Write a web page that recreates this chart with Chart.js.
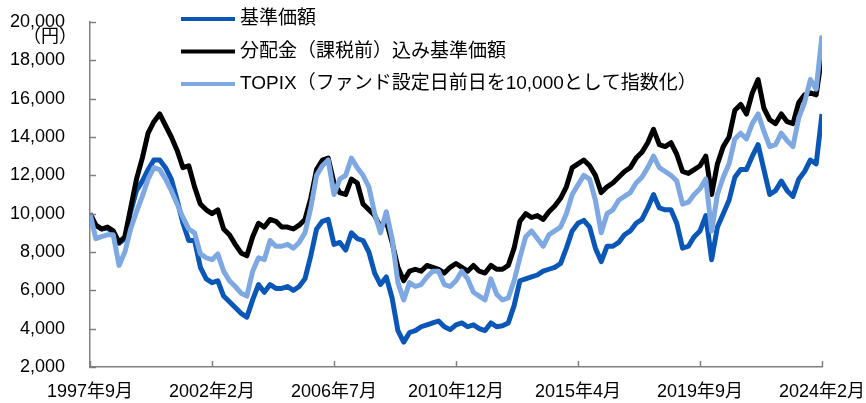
<!DOCTYPE html>
<html>
<head>
<meta charset="utf-8">
<script src="https://cdn.jsdelivr.net/npm/chart.js@4.4.1/dist/chart.umd.min.js"></script>
<style>
  html, body { margin: 0; padding: 0; background: #fff; overflow: hidden; }
  #wrap { width: 866px; height: 403px; position: relative; }
</style>
</head>
<body>
<div id="wrap"><canvas id="navChart"></canvas></div>
<script>
// x tick labels, one every 21 points (points are ~2.5 months apart)
const xLabels = ['1997年9月', '2002年2月', '2006年7月', '2010年12月', '2015年4月', '2019年9月', '2024年2月'];
const yTicks = [2000, 4000, 6000, 8000, 10000, 12000, 14000, 16000, 18000, 20000];

const seriesNames = ['基準価額', '分配金（課税前）込み基準価額', 'TOPIX（ファンド設定日前日を10,000として指数化）'];

// 基準価額
const navValues = [
  10000, 9400, 9200, 9250, 9050, 8450, 8700, 10100, 11200, 11700,
  12300, 12800, 12800, 12400, 11800, 10700, 9500, 8600, 8600, 7200,
  6600, 6400, 6500, 5700, 5400, 5100, 4800, 4600, 5500, 6300,
  5900, 6300, 6100, 6100, 6200, 6000, 6200, 6600, 7800, 9200,
  9600, 9700, 8400, 8500, 8100, 9000, 8700, 8600, 8000, 6900,
  6300, 6700, 5600, 3900, 3300, 3800, 3900, 4100, 4200, 4300,
  4400, 4100, 3950, 4200, 4300, 4100, 4200, 4000, 3900, 4300,
  4100, 4150, 4300, 5200, 6500, 6600, 6700, 6800, 7000, 7100,
  7200, 7400, 8200, 9100, 9500, 9650, 9300, 8200, 7500, 8300,
  8300, 8500, 8900, 9100, 9500, 9700, 10300, 11000, 10300, 10200,
  10200, 9500, 8200, 8300, 8800, 9100, 9900, 7600, 9300, 10000,
  10700, 11900, 12300, 12300, 13000, 13600, 12300, 11000, 11200, 11700,
  11200, 10900, 11800, 12200, 12800, 12600, 15200
];

// 分配金（課税前）込み基準価額
const navDivValues = [
  10000, 9400, 9200, 9300, 9100, 8500, 8800, 10300, 11800, 12900,
  14200, 14800, 15200, 14600, 14000, 13300, 12400, 12500, 11400, 10500,
  10200, 10000, 10200, 9200, 8900, 8400, 7950, 7800, 8800, 9500,
  9300, 9700, 9600, 9300, 9300, 9200, 9400, 9700, 10800, 12300,
  12800, 12900, 11600, 11100, 11000, 11800, 11600, 10500, 10200, 9900,
  9300, 9600, 8500, 7200, 6500, 7000, 7100, 7000, 7300, 7200,
  7100, 6900, 7200, 7400, 7200, 7000, 7300, 7000, 6900, 7300,
  7100, 7100, 7300, 8200, 9600, 10000, 9800, 9900, 9700, 10100,
  10400, 10800, 11400, 12400, 12600, 12800, 12500, 12000, 11100, 11400,
  11600, 11900, 12200, 12400, 12900, 13200, 13700, 14400, 13600, 13500,
  13700, 13100, 12200, 12100, 12300, 12500, 13000, 11000, 12600, 13500,
  14000, 15400, 15700, 15200, 16300, 17000, 15500, 14900, 14700, 15200,
  14800, 14700, 15800, 16200, 16300, 16200, 18300
];

// TOPIX（指数化）
const topixValues = [
  10000, 8700, 8800, 8900, 8900, 7300, 8000, 9200, 10100, 10900,
  11800, 12400, 12300, 11800, 11200, 10500, 9800, 9200, 9000, 7900,
  7700, 7600, 7900, 7000, 6500, 6200, 5850, 5700, 7000, 7700,
  7600, 8600, 8300, 8300, 8400, 8200, 8500, 9000, 10300, 12000,
  12500, 12800, 11000, 11800, 12000, 12900, 12400, 12000, 11400, 10000,
  9000, 10100, 8700, 6400, 5500, 6400, 6200, 6300, 6700, 7000,
  7000, 6300, 6200, 6500, 7000, 6600, 5900, 5700, 5500, 6600,
  5800, 5500, 5600, 6500, 7700, 8800, 9100, 8700, 8300, 8900,
  9100, 9300, 10000, 11000, 11500, 12000, 11800, 10700, 9000, 10000,
  10200, 10700, 10900, 11100, 11600, 11900, 12400, 13000, 12400, 12200,
  12000, 11700, 10500, 10600, 11000, 11300, 11800, 9100, 11000, 11900,
  12600, 13900, 14200, 13900, 14700, 15200, 14300, 13500, 13600, 14200,
  13800, 13500, 15000, 15800, 17000, 16500, 19300
];

const colors = ['#0a57b8', '#000000', '#7ea8e2'];
const fontFamily = "'Liberation Sans', 'Noto Sans CJK JP', sans-serif";

const toPoints = (arr) => arr.map((v, i) => ({ x: i, y: v }));
const lastIndex = navValues.length - 1;
const tickStep = lastIndex / (xLabels.length - 1);

// legend + unit label drawn on top of the plot, like the original
const overlayPlugin = {
  id: 'overlay',
  afterDraw(chart) {
    const ctx = chart.ctx;
    const xs = chart.scales.x, ys = chart.scales.y;
    ctx.save();
    // inward tick marks
    ctx.strokeStyle = '#808080';
    ctx.lineWidth = 1.5;
    yTicks.forEach(v => {
      const y = Math.round(ys.getPixelForValue(v)) + 0.5;
      ctx.beginPath(); ctx.moveTo(xs.left, y); ctx.lineTo(xs.left + 6, y); ctx.stroke();
    });
    xLabels.forEach((_, k) => {
      const x = Math.round(xs.getPixelForValue(k * tickStep)) + 0.5;
      ctx.beginPath(); ctx.moveTo(x, ys.bottom); ctx.lineTo(x, ys.bottom - 6); ctx.stroke();
    });
    // unit
    ctx.fillStyle = '#000';
    ctx.font = "18px " + fontFamily;
    ctx.textAlign = 'center';
    ctx.textBaseline = 'middle';
    ctx.fillText('（円）', 50, 37);
    // legend
    ctx.textAlign = 'left';
    ctx.font = "19px " + fontFamily;
    seriesNames.forEach((name, k) => {
      const y = 19 + k * 32.5;
      ctx.strokeStyle = colors[k];
      ctx.lineWidth = 4;
      ctx.beginPath(); ctx.moveTo(181, y); ctx.lineTo(235, y); ctx.stroke();
      ctx.fillText(name, 240, y);
    });
    ctx.restore();
  }
};

const datasets = [
  { label: seriesNames[0], data: toPoints(navValues), borderColor: colors[0], order: 2 },
  { label: seriesNames[1], data: toPoints(navDivValues), borderColor: colors[1], order: 1 },
  { label: seriesNames[2], data: toPoints(topixValues), borderColor: colors[2], order: 0 }
].map(d => Object.assign(d, { borderWidth: 5, pointRadius: 0, tension: 0, fill: false, borderJoinStyle: 'round' }));

new Chart(document.getElementById('navChart'), {
  type: 'line',
  data: { datasets },
  options: {
    responsive: true, maintainAspectRatio: false, animation: false,
    layout: { padding: { top: 22, right: 44, left: 0, bottom: 0 } },
    plugins: { legend: { display: false }, tooltip: { enabled: false } },
    scales: {
      x: {
        type: 'linear', min: 0, max: lastIndex,
        afterBuildTicks: (scale) => { scale.ticks = xLabels.map((_, k) => ({ value: k * tickStep })); },
        afterFit: (scale) => { scale.height = 36; scale.paddingLeft = 0; scale.paddingRight = 0; },
        grid: { display: false, drawTicks: false },
        border: { display: true, color: '#808080', width: 1.5 },
        ticks: {
          padding: 14, color: '#000', maxRotation: 0, autoSkip: false,
          font: { size: 18, family: fontFamily },
          callback: (v) => xLabels[Math.round(v / tickStep)]
        }
      },
      y: {
        min: 2000, max: 20000,
        afterBuildTicks: (scale) => { scale.ticks = yTicks.map(v => ({ value: v })); },
        afterFit: (scale) => { scale.width = 90; scale.paddingTop = 0; scale.paddingBottom = 0; },
        grid: { display: false, drawTicks: false },
        border: { display: true, color: '#808080', width: 1.5 },
        ticks: {
          padding: 25, color: '#000',
          font: { size: 18, family: fontFamily },
          callback: (v) => v.toLocaleString('en-US')
        }
      }
    }
  },
  plugins: [overlayPlugin]
});
</script>
</body>
</html>
